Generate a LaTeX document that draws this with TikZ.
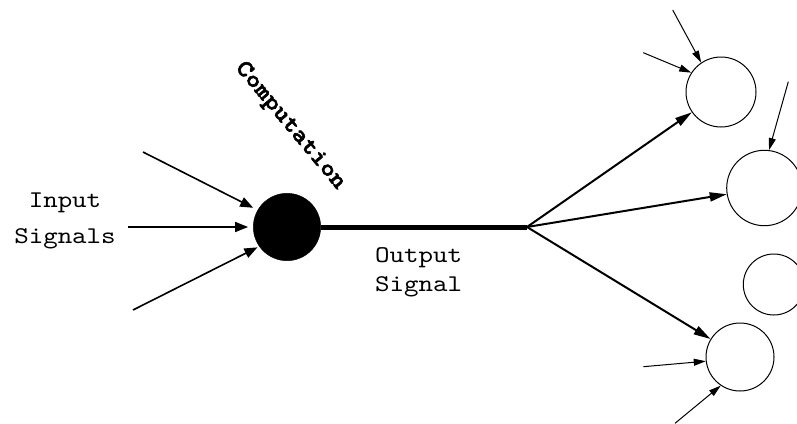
\documentclass[tikz,border=0pt]{standalone}
\usepackage{fontspec}
\setmonofont{lmmono10-regular}[Extension = .otf, BoldFont = lmmonolt10-bold, BoldFeatures = {FakeBold = 2.5}, FakeStretch = 1.15]
\usetikzlibrary{arrows.meta}

\begin{document}
\begin{tikzpicture}[x = 1pt, y = -1pt, font=\ttfamily]
	\tikzstyle{somaStyle}=[shape = circle, minimum size = 67.4pt, inner sep = 0pt, draw, fill = black]
	\tikzstyle{cellStyle}=[shape = circle, inner sep = 0pt, draw, line width = 1pt]
	\tikzstyle{inArrow}=[line width = 1.6pt, -{Triangle[length = 13pt, width = 10pt]}]
	\tikzstyle{outArrow}=[line width = 2pt, -{Triangle[length = 17pt, width = 9pt]}]
	\tikzstyle{thinArrow}=[line width = 1pt, -{Triangle[length = 12pt, width = 7pt]}]
	\clip (0,0) rectangle (797,423);
	% cell body and the cells it feeds
	\node[somaStyle] (soma) at (287,227) {};
	\node[cellStyle, minimum size = 70pt] (c1) at (721,92) {};
	\node[cellStyle, minimum size = 75.4pt] (c2) at (764.4,188) {};
	\node[cellStyle, minimum size = 61pt] (c3) at (773.8,284.5) {};
	\node[cellStyle, minimum size = 68pt] (c4) at (740,357) {};
	\coordinate (branch) at (527,227);
	% labels
	\node[align = center, font = \fontsize{24}{36}\selectfont\ttfamily] (inLabel) at (65,221) {Input\\Signals};
	\node[align = left, anchor = north west, inner sep = 0pt, font = \fontsize{24}{29}\selectfont\ttfamily] (outLabel) at (375,247) {Output\\Signal};
	\node[rotate = -50, font = \fontsize{24}{24}\selectfont\ttfamily\bfseries] (compLabel) at (290,126) {Computation};
	% input signals
	\coordinate (in1) at (143,152);
	\coordinate (in2) at (128,227);
	\coordinate (in3) at (133,310);
	\draw[inArrow, shorten > = 5pt] (in1) -- (soma.150);
	\draw[inArrow, shorten > = 5pt] (in2) -- (soma.west);
	\draw[inArrow, shorten > = 2pt] (in3) -- (soma.215);
	% output signal
	\draw[line width = 5pt] (soma.east) -- (branch);
	\draw[outArrow] (branch) -- (c1);
	\draw[outArrow] (branch) -- (c2);
	\draw[outArrow] (branch) -- (c4);
	% other inputs of the cells
	\coordinate (a1) at (672.7,10);
	\coordinate (a2) at (643.3,52.7);
	\coordinate (a3) at (788.3,81.7);
	\coordinate (a4) at (643.3,366.7);
	\coordinate (a5) at (675,423.3);
	\draw[thinArrow] (a1) -- (c1.124);
	\draw[thinArrow] (a2) -- (c1.147);
	\draw[thinArrow] (a3) -- (c2.83);
	\draw[thinArrow] (a4) -- (c4.187);
	\draw[thinArrow] (a5) -- (c4.236);
\end{tikzpicture}
\end{document}
